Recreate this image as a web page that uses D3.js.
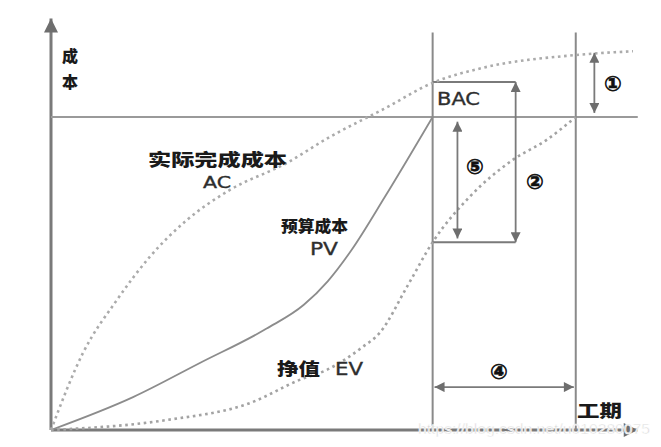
<!DOCTYPE html>
<html>
<head>
<meta charset="utf-8">
<script src="https://cdn.jsdelivr.net/npm/d3@7"></script>
<style>
  body { margin: 0; background: #fff; }
  svg { display: block; }
  .cn { font-family: "Noto Sans CJK SC", sans-serif; font-weight: 900; fill: #1a1a1a; }
  .en { font-family: "DejaVu Sans", "Liberation Sans", sans-serif; fill: #2e2e2e; stroke: #2e2e2e; stroke-width: 0.35; }
</style>
</head>
<body>
<svg id="chart" width="661" height="447"></svg>
<script>
// time (x) and cost (y) readings, BAC = 100
const acTime = [0, 0.67, 1.38, 2.07, 2.85, 3.75, 4.94, 5.84, 6.98, 8.0, 9.05, 11.0, 12.2];
const acCost = [0, 24.6, 41.5, 55.3, 67.1, 76.7, 85.3, 93.6, 102.6, 110.9, 115.7, 119.8, 121];

const pvTime = [0, 1.72, 3.12, 4.52, 5.3, 5.8, 6.3, 7.0, 8.0];
const pvCost = [0, 10.5, 21.4, 32.4, 40.0, 47.5, 57.5, 74.5, 100];

const evTime = [0, 2.43, 4.17, 5.21, 5.78, 6.53, 6.89, 7.46, 8.0, 8.77, 9.68, 10.39, 11.0];
const evCost = [0, 3.2, 8.6, 16, 19.2, 26.5, 31, 45.7, 60, 74.4, 86.3, 92.7, 100];

const bac = 100;
const statusTime = 8;      // planned finish
const finishTime = 11;     // actual finish
const acAtStatus = 111.2;
const evAtStatus = 60;
const acAtFinish = 120.5;
const boxRight = 9.74;

const svg = d3.select("#chart");

const x = d3.scaleLinear().domain([0, 12.2]).range([51, 633]);
const y = d3.scaleLinear().domain([0, 100]).range([430, 117]);

// arrow markers
const defs = svg.append("defs");
function marker(id, color, w, h) {
    defs.append("marker")
        .attr("id", id)
        .attr("viewBox", "0 0 10 10")
        .attr("refX", 10).attr("refY", 5)
        .attr("markerUnits", "userSpaceOnUse")
        .attr("markerWidth", w).attr("markerHeight", h)
        .attr("orient", "auto-start-reverse")
        .append("path")
        .attr("d", "M0,0 L10,5 L0,10 Z")
        .attr("fill", color);
}
marker("arr", "#6e6e6e", 18, 10);
marker("axarr", "#6e6e6e", 16, 14);

// axes
svg.append("line")
    .attr("x1", x(0)).attr("y1", y(0))
    .attr("x2", x(0)).attr("y2", y(131.5))
    .attr("stroke", "#7a7a7a").attr("stroke-width", 3)
    .attr("marker-end", "url(#axarr)");
svg.append("line")
    .attr("x1", x(0)).attr("y1", y(0))
    .attr("x2", x(12.3)).attr("y2", y(0))
    .attr("stroke", "#7a7a7a").attr("stroke-width", 3)
    .attr("marker-end", "url(#axarr)");

// BAC line and the two vertical lines
svg.append("line")
    .attr("x1", x(0)).attr("y1", y(bac))
    .attr("x2", x(12.3)).attr("y2", y(bac))
    .attr("stroke", "#9a9a9a").attr("stroke-width", 2.2);

[statusTime, finishTime].forEach(t => {
    svg.append("line")
        .attr("x1", x(t)).attr("y1", y(0))
        .attr("x2", x(t)).attr("y2", y(127))
        .attr("stroke", "#8a8a8a").attr("stroke-width", 2);
});

// box between AC and EV at the status date
svg.append("path")
    .attr("d", `M${x(statusTime)},${y(acAtStatus)} H${x(boxRight)} M${x(statusTime)},${y(evAtStatus)} H${x(boxRight)}`)
    .attr("stroke", "#7a7a7a").attr("stroke-width", 2).attr("fill", "none");

// curves
const line = d3.line()
    .x(d => x(d[0]))
    .y(d => y(d[1]))
    .curve(d3.curveMonotoneX);

svg.append("path")
    .datum(d3.zip(pvTime, pvCost))
    .attr("d", line)
    .attr("fill", "none")
    .attr("stroke", "#8c8c8c")
    .attr("stroke-width", 1.8);

svg.append("path")
    .datum(d3.zip(acTime, acCost))
    .attr("d", line)
    .attr("fill", "none")
    .attr("stroke", "#ababab")
    .attr("stroke-width", 2.6)
    .attr("stroke-dasharray", "2.6 3.6");

svg.append("path")
    .datum(d3.zip(evTime, evCost))
    .attr("d", line)
    .attr("fill", "none")
    .attr("stroke", "#a3a3a3")
    .attr("stroke-width", 2.6)
    .attr("stroke-dasharray", "2.6 3.6");

// double arrows
function dblArrow(x1, y1, x2, y2) {
    svg.append("line")
        .attr("x1", x1).attr("y1", y1)
        .attr("x2", x2).attr("y2", y2)
        .attr("stroke", "#7a7a7a").attr("stroke-width", 1.8)
        .attr("marker-start", "url(#arr)")
        .attr("marker-end", "url(#arr)");
}
dblArrow(x(8.52), y(bac - 1.5), x(8.52), y(evAtStatus + 1.2));      // 5
dblArrow(x(boxRight), y(acAtStatus), x(boxRight), y(evAtStatus));    // 2
dblArrow(x(11.39), y(acAtFinish), x(11.39), y(bac + 1.3));           // 1
dblArrow(x(8.04), y(13.7), x(10.96), y(13.7));                       // 4

// text labels
function cnText(str, px, py, size, len) {
    const t = svg.append("text").attr("class", "cn")
        .attr("x", px).attr("y", py)
        .style("font-size", size + "px")
        .text(str);
    if (len) t.attr("textLength", len).attr("lengthAdjust", "spacingAndGlyphs");
    return t;
}
function enText(str, px, py, size, len) {
    const t = svg.append("text").attr("class", "en")
        .attr("x", px).attr("y", py)
        .style("font-size", size + "px")
        .text(str);
    if (len) t.attr("textLength", len).attr("lengthAdjust", "spacingAndGlyphs");
    return t;
}

cnText("成", 62, 62, 16);
cnText("本", 62, 88, 16);
cnText("实际完成成本", 148, 166, 17, 139);
enText("AC", 203, 188, 16, 28);
cnText("预算成本", 281, 232, 16, 67);
enText("PV", 310, 255, 17, 28);
cnText("挣值", 277, 375, 17, 43);
enText("EV", 335, 375, 17, 28);
enText("BAC", 437, 105, 18, 43);
cnText("工期", 577, 417, 17, 45);

const circ = [["①", 613, 84], ["②", 535, 182], ["⑤", 475, 167], ["④", 499, 372]];
circ.forEach(([s, cx, cy]) => {
    svg.append("text")
        .attr("x", cx).attr("y", cy)
        .attr("text-anchor", "middle")
        .attr("dominant-baseline", "central")
        .style("font-family", "DejaVu Sans, sans-serif")
        .style("font-weight", "bold")
        .style("font-size", "21px")
        .style("fill", "#111")
        .style("stroke", "#111").style("stroke-width", 0.6)
        .text(s);
});

// watermark
svg.append("text")
    .attr("x", 418).attr("y", 434)
    .attr("textLength", 232).attr("lengthAdjust", "spacingAndGlyphs")
    .style("font-family", "Liberation Sans, sans-serif")
    .style("font-size", "15px")
    .style("fill", "#cfcfcf")
    .style("stroke", "#fff").style("stroke-width", 0.6)
    .text("https://blog.csdn.net/u010280075");
</script>
</body>
</html>
